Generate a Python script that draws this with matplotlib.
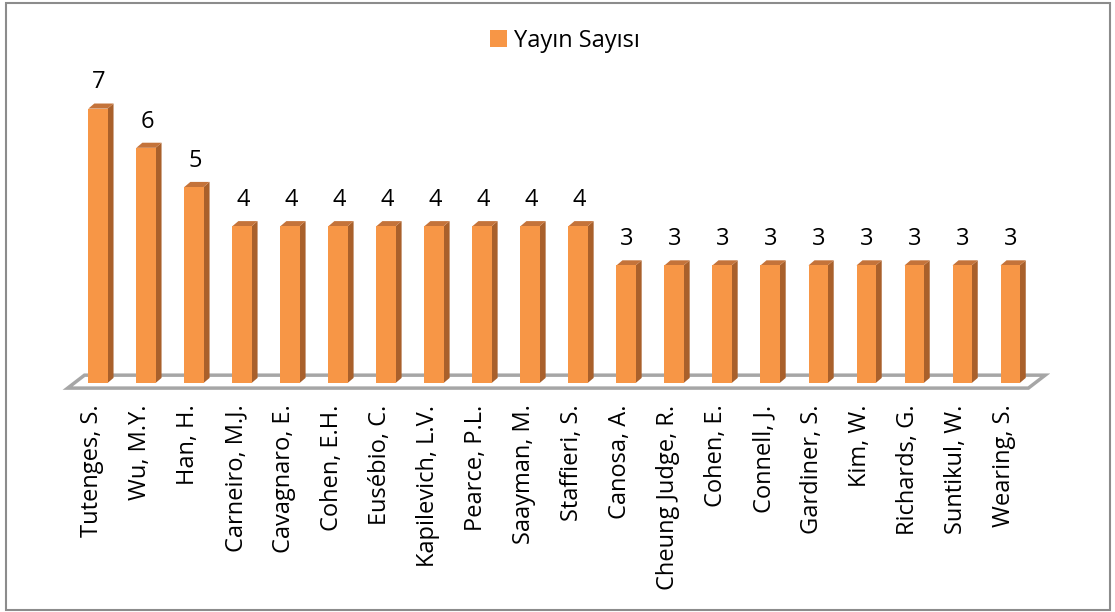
import matplotlib
matplotlib.use("Agg")
import matplotlib.pyplot as plt
from matplotlib.patches import Polygon, Rectangle

authors = ["Tutenges, S.", "Wu, M.Y.", "Han, H.", "Carneiro, M.J.", "Cavagnaro, E.",
           "Cohen, E.H.", "Eusébio, C.", "Kapilevich, L.V.", "Pearce, P.L.", "Saayman, M.",
           "Staffieri, S.", "Canosa, A.", "Cheung Judge, R.", "Cohen, E.", "Connell, J.",
           "Gardiner, S.", "Kim, W.", "Richards, G.", "Suntikul, W.", "Wearing, S."]
counts = [7, 6, 5, 4, 4, 4, 4, 4, 4, 4, 4, 3, 3, 3, 3, 3, 3, 3, 3, 3]
series_name = "Yayın Sayısı"

plt.rcParams['font.family'] = ['Open Sans', 'DejaVu Sans']

front = "#F79646"
side = "#A9602B"
top = "#C4733A"

fig = plt.figure(figsize=(11.15, 6.12), dpi=100)
ax = fig.add_axes([60/1115, 217/612, 990/1115, 335/612])
n = len(counts)
ax.set_xlim(-0.79, 19.83)
ax.set_ylim(-0.306, 8.24)
ax.axis('off')

# floor
floor = Polygon([(-0.63, -0.13), (19.38, -0.13), (19.73, 0.2), (-0.28, 0.2)],
                closed=True, facecolor='white', edgecolor='#A6A6A6', lw=2.5, zorder=1)
ax.add_patch(floor)

w = 0.4
dx, dy = 0.125, 0.13
xs = list(range(n))
ax.bar(xs, counts, width=w, color=front, zorder=3, label=series_name)
for x, v in zip(xs, counts):
    r = x + w/2
    l = x - w/2
    ax.add_patch(Polygon([(r, 0), (r + dx, dy), (r + dx, v + dy), (r, v)],
                         closed=True, facecolor=side, edgecolor='none', zorder=2.9))
    ax.add_patch(Polygon([(l, v), (r, v), (r + dx, v + dy), (l + dx, v + dy)],
                         closed=True, facecolor=top, edgecolor='none', zorder=2.9))
    ax.text(x + 0.02, v + 0.36, str(v), ha='center', va='bottom', fontsize=17, color='black')

for x, name in zip(xs, authors):
    ax.text(x - 0.12, -0.55, name, rotation=90, ha='center', va='top', fontsize=17,
            color='black')

leg = ax.legend(loc='center', bbox_to_anchor=(0.51, 1.058), frameon=False,
                fontsize=17, handlelength=0.75, handleheight=0.75, handletextpad=0.3)

fig.patches.append(Rectangle((6/1115, 2/612), 1104/1115, 607/612, transform=fig.transFigure,
                             fill=False, edgecolor='#8C8C8C', lw=1.5))

fig.savefig("out.png", dpi=100)
